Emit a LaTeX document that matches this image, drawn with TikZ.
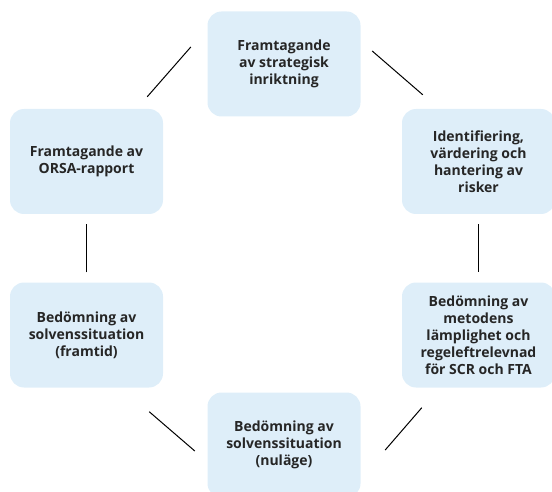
\documentclass[tikz,border=0pt]{standalone}
\usepackage{fontspec}
\setmainfont{Open Sans}
\usetikzlibrary{positioning}
\definecolor{boxblue}{HTML}{DEEEF9}
\definecolor{textgrey}{HTML}{262626}
\begin{document}
\begin{tikzpicture}[
    x=1pt, y=1pt,
    box/.style={fill=boxblue, rounded corners=14pt, minimum width=153pt, minimum height=105pt,
        align=center, text=textgrey, font=\fontsize{14}{17}\selectfont\bfseries},
    link/.style={line width=1pt, black},
]
    \useasboundingbox (0,0) rectangle (552,491);

    % Ring of steps
    \node[box] (strat) at (284,427) {Framtagande\\av strategisk\\inriktning};
    \node[box] (risk) at (478.5,329.5) {Identifiering,\\värdering och\\hantering av\\risker};
    \node[box] (metod) at (478.5,156) {Bedömning av\\metodens\\lämplighet och\\regeleftrelevnad\\för SCR och FTA};
    \node[box] (nu) at (284,46) {Bedömning av\\solvenssituation\\(nuläge)};
    \node[box] (fram) at (86.5,156) {Bedömning av\\solvenssituation\\(framtid)};
    \node[box] (orsa) at (86.5,329.5) {Framtagande av\\ORSA-rapport};

    % Connecting lines
    \draw[link] ([shift={(-16,12)}]orsa.north east) -- ([shift={(-16.5,17)}]strat.west);
    \draw[link] ([shift={(11.5,13)}]strat.east) -- ([shift={(21,14)}]risk.north west);
    \draw[link, shorten <=10pt, shorten >=10pt] (risk.south) -- (metod.north);
    \draw[link] ([shift={(20,-20)}]metod.south west) -- ([shift={(24.5,-5)}]nu.east);
    \draw[link] ([shift={(-14,-24)}]fram.south east) -- ([shift={(-12.5,-6)}]nu.west);
    \draw[link, shorten <=10pt, shorten >=10pt] (fram.north) -- (orsa.south);

\end{tikzpicture}
\end{document}
